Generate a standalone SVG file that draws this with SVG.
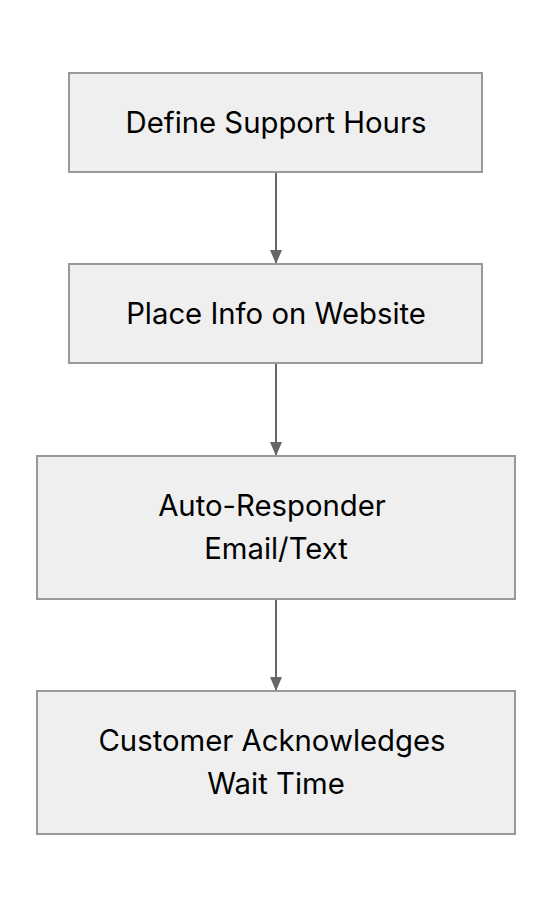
<svg xmlns="http://www.w3.org/2000/svg" width="552" height="908" viewBox="0 0 552 908">
<defs>
<style>
.n rect{fill:#efefef;stroke:#999;stroke-width:2}
.n text{font-family:Inter,"Noto Sans",sans-serif;font-size:29.3px;fill:#000;text-anchor:middle;dominant-baseline:central}
.e line{stroke:#666;stroke-width:2}
</style>
<marker id="ah" markerWidth="14" markerHeight="12" refX="14" refY="6" orient="auto" markerUnits="userSpaceOnUse" viewBox="0 0 14 12">
<path d="M0,0 L14,6 L0,12 Z" fill="#666"/>
</marker>
</defs>
<rect width="552" height="908" fill="#fff"/>
<g class="e">
<line x1="276" y1="173" x2="276" y2="264" marker-end="url(#ah)"/>
<line x1="276" y1="364" x2="276" y2="456" marker-end="url(#ah)"/>
<line x1="276" y1="600" x2="276" y2="691" marker-end="url(#ah)"/>
</g>
<g class="n" id="n1">
<rect x="69" y="73" width="413" height="99"/>
<text x="276" y="122">Define Support Hours</text>
</g>
<g class="n" id="n2">
<rect x="69" y="264" width="413" height="99"/>
<text x="276" y="313">Place Info on Website</text>
</g>
<g class="n" id="n3">
<rect x="37" y="456" width="478" height="143"/>
<text x="272" y="505">Auto-Responder</text>
<text x="276" y="548">Email/Text</text>
</g>
<g class="n" id="n4">
<rect x="37" y="691" width="478" height="143"/>
<text x="272" y="740">Customer Acknowledges</text>
<text x="276" y="783">Wait Time</text>
</g>
</svg>
